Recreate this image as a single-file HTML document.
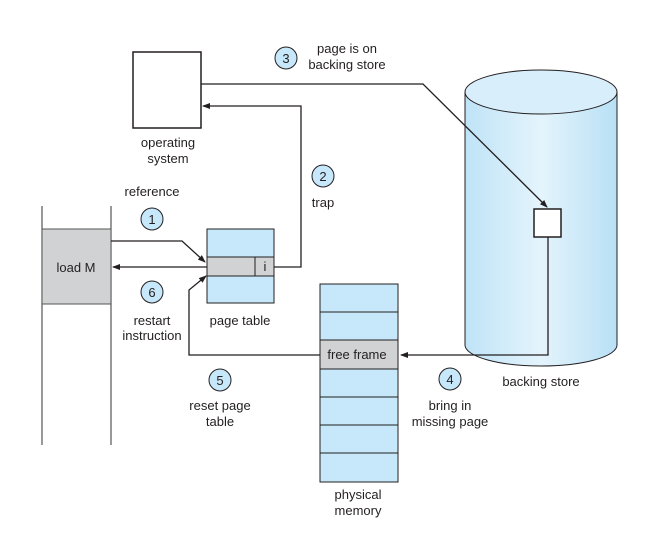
<!DOCTYPE html>
<html><head><meta charset="utf-8"><style>
html,body{margin:0;padding:0;background:#fff;}
svg text{font-family:"Liberation Sans",sans-serif;font-size:13px;fill:#231f20;}
</style></head><body>
<svg width="672" height="548" viewBox="0 0 672 548" xmlns="http://www.w3.org/2000/svg">
<defs>
<marker id="a" markerWidth="8" markerHeight="6" refX="7" refY="3" orient="auto" markerUnits="userSpaceOnUse">
<path d="M0,0 L8,3 L0,6 z" fill="#231f20"/></marker>
<linearGradient id="cyl" x1="0" x2="1" y1="0" y2="0">
<stop offset="0" stop-color="#bfe3f7"/><stop offset="0.5" stop-color="#e4f4fc"/><stop offset="1" stop-color="#b8e0f6"/></linearGradient>
</defs>
<path d="M465,92 L465,345 A76,21 0 0 0 617,345 L617,92" fill="url(#cyl)" stroke="#231f20" stroke-width="1"/>
<ellipse cx="541" cy="92" rx="76" ry="22" fill="#d8eefa" stroke="#231f20" stroke-width="1"/>
<rect x="534" y="209" width="27" height="28" fill="#fff" stroke="#231f20" stroke-width="1.5"/>
<rect x="133" y="52" width="68" height="76" fill="#fff" stroke="#231f20" stroke-width="1.5"/>
<line x1="42" y1="206" x2="42" y2="445" stroke="#555" stroke-width="1.2"/>
<line x1="111" y1="206" x2="111" y2="445" stroke="#555" stroke-width="1.2"/>
<rect x="42" y="229" width="69" height="75" fill="#d1d2d4" stroke="#555" stroke-width="1"/>
<rect x="207" y="229" width="67" height="74" fill="#c6e8fa" stroke="#231f20" stroke-width="1"/>
<rect x="207" y="257" width="67" height="19" fill="#d1d2d4" stroke="#231f20" stroke-width="1"/>
<line x1="255" y1="257" x2="255" y2="276" stroke="#231f20"/>
<rect x="320" y="284" width="78" height="198" fill="#c6e8fa" stroke="#231f20" stroke-width="1"/>
<rect x="320" y="340" width="78" height="29" fill="#d1d2d4" stroke="#231f20" stroke-width="1"/>
<g stroke="#231f20" stroke-width="1">
<line x1="320" y1="312" x2="398" y2="312"/><line x1="320" y1="397" x2="398" y2="397"/>
<line x1="320" y1="425" x2="398" y2="425"/><line x1="320" y1="453" x2="398" y2="453"/>
</g>
<g fill="none" stroke="#231f20" stroke-width="1.3">
<polyline points="201,84 423,84 547,207" marker-end="url(#a)"/>
<polyline points="274,267 301,267 301,106 203,106" marker-end="url(#a)"/>
<polyline points="111,241 182,241 205,262" marker-end="url(#a)"/>
<polyline points="207,267 113,267" marker-end="url(#a)"/>
<polyline points="320,355 189,355 189,290 206,276" marker-end="url(#a)"/>
<polyline points="548,237 548,355 401,355" marker-end="url(#a)"/>
</g>
<g fill="#c6e8fa" stroke="#231f20" stroke-width="1">
<circle cx="152" cy="219" r="11"/><circle cx="152" cy="292" r="11"/>
<circle cx="323" cy="176" r="11"/><circle cx="286" cy="58" r="11"/>
<circle cx="450" cy="379" r="11"/><circle cx="220" cy="380" r="11"/>
</g>
<g text-anchor="middle">
<text x="152" y="224">1</text><text x="152" y="297">6</text>
<text x="323" y="181">2</text><text x="286" y="63">3</text>
<text x="450" y="384">4</text><text x="220" y="385">5</text>
<text x="152" y="196">reference</text>
<text x="323" y="207">trap</text>
<text x="347" y="53">page is on</text><text x="347" y="69">backing store</text>
<text x="168" y="147">operating</text><text x="168" y="163">system</text>
<text x="152" y="325">restart</text><text x="152" y="340">instruction</text>
<text x="240" y="325">page table</text>
<text x="220" y="410">reset page</text><text x="220" y="426">table</text>
<text x="450" y="410">bring in</text><text x="450" y="426">missing page</text>
<text x="541" y="386">backing store</text>
<text x="358" y="499">physical</text><text x="358" y="515">memory</text>
<text x="76" y="272">load M</text>
<text x="357" y="359">free frame</text>
<text x="265" y="271">i</text>
</g>
</svg>
</body></html>
